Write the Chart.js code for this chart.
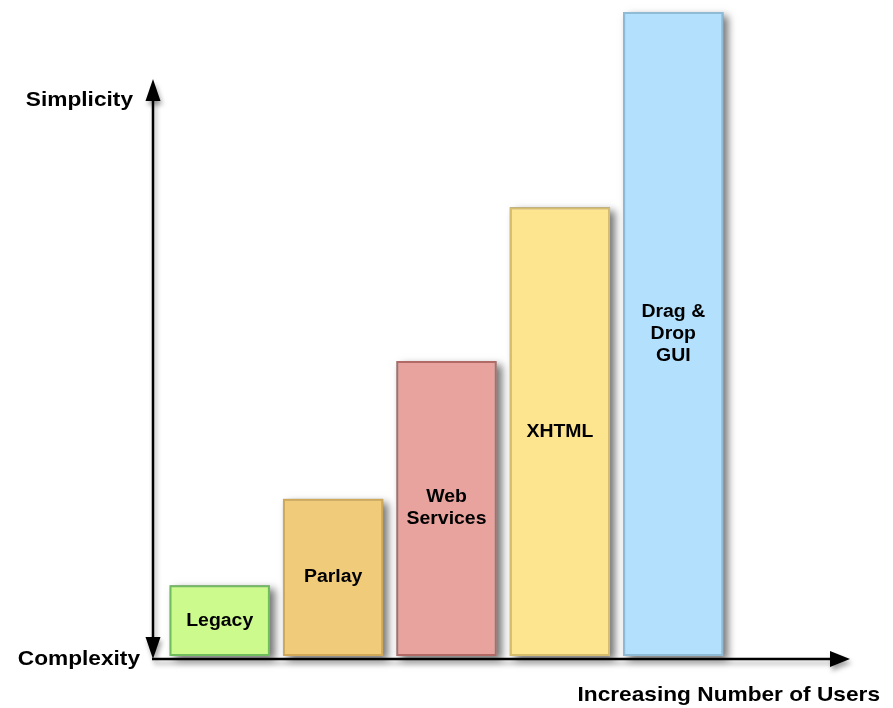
<!DOCTYPE html>
<html>
<head>
<meta charset="utf-8">
<script src="https://cdn.jsdelivr.net/npm/chart.js@4"></script>
<style>
  html, body { margin: 0; padding: 0; background: #fff; }
  #wrap { width: 893px; height: 708px; position: relative; }
</style>
</head>
<body>
<div id="wrap"><canvas id="chart"></canvas></div>
<script>
// data (0 = complexity, 100 = simplicity of the tallest)
const categories = ['Legacy', 'Parlay', ['Web', 'Services'], 'XHTML', ['Drag &', 'Drop', 'GUI']];
const simplicity = [11.0, 24.4, 45.8, 69.7, 100];
const fillColors = ['#cdfa8c', '#f0cb7a', '#e8a39e', '#fde48f', '#b2e0fd'];
const edgeColors = ['#6fbd5c', '#d0a857', '#b26a66', '#d6bd6d', '#8fbbd6'];
const yAxisTop = 'Simplicity';
const yAxisBottom = 'Complexity';
const xAxisTitle = 'Increasing Number of Users';

const FONT = '"Liberation Sans", Arial, Helvetica, sans-serif';

// stretched bold text, the source image is a bit wider than it is tall
function wideText(ctx, text, x, y, size, align) {
    ctx.save();
    ctx.font = 'bold ' + size + 'px ' + FONT;
    ctx.textAlign = align || 'center';
    ctx.textBaseline = 'middle';
    ctx.translate(x, y);
    ctx.scale(1.08, 1);
    ctx.fillText(text, 0, 0);
    ctx.restore();
}

// Chart.js clips bar drawing to the bar itself, so the drop shadow
// is painted first as a separate rect that the bar then covers
const shadowPlugin = {
    id: 'barShadow',
    beforeDatasetsDraw(chart) {
        const ctx = chart.ctx;
        const meta = chart.getDatasetMeta(0);
        ctx.save();
        ctx.shadowColor = 'rgba(0,0,0,0.55)';
        ctx.shadowBlur = 8;
        ctx.shadowOffsetX = 5;
        ctx.shadowOffsetY = 4;
        ctx.fillStyle = '#999';
        meta.data.forEach(bar => {
            ctx.fillRect(bar.x - bar.width / 2, bar.y, bar.width, bar.base - bar.y);
        });
        ctx.restore();
    }
};

const decoPlugin = {
    id: 'deco',
    afterDatasetsDraw(chart) {
        const ctx = chart.ctx;
        const area = chart.chartArea;
        const ax = area.left - 10;       // vertical axis x
        const ay = area.bottom + 3;      // horizontal axis y
        const topTip = 79;
        const rightTip = 850;

        ctx.save();
        ctx.fillStyle = '#000';
        ctx.strokeStyle = '#000';
        ctx.lineWidth = 2.5;
        ctx.shadowColor = 'rgba(0,0,0,0.35)';
        ctx.shadowBlur = 5;
        ctx.shadowOffsetX = 2;
        ctx.shadowOffsetY = 4;

        // vertical double arrow
        ctx.beginPath();
        ctx.moveTo(ax, topTip + 15);
        ctx.lineTo(ax, ay - 18);
        ctx.stroke();
        ctx.beginPath();
        ctx.moveTo(ax, topTip);
        ctx.lineTo(ax - 7.5, topTip + 22);
        ctx.lineTo(ax + 7.5, topTip + 22);
        ctx.closePath();
        ctx.fill();
        ctx.beginPath();
        ctx.moveTo(ax, ay);
        ctx.lineTo(ax - 7.5, ay - 22);
        ctx.lineTo(ax + 7.5, ay - 22);
        ctx.closePath();
        ctx.fill();

        // horizontal arrow
        ctx.beginPath();
        ctx.moveTo(ax - 1, ay);
        ctx.lineTo(rightTip - 15, ay);
        ctx.stroke();
        ctx.beginPath();
        ctx.moveTo(rightTip, ay);
        ctx.lineTo(rightTip - 20, ay - 8);
        ctx.lineTo(rightTip - 20, ay + 8);
        ctx.closePath();
        ctx.fill();
        ctx.restore();

        // axis words
        ctx.save();
        ctx.fillStyle = '#000';
        wideText(ctx, yAxisTop, 133, 100, 21, 'right');
        wideText(ctx, yAxisBottom, 140, 659, 21, 'right');
        wideText(ctx, xAxisTitle, 880, 695, 21, 'right');

        // labels in the middle of each bar
        const meta = chart.getDatasetMeta(0);
        meta.data.forEach((bar, i) => {
            const lines = [].concat(categories[i]);
            const cy = (bar.y + bar.base) / 2;
            const lh = 22;
            lines.forEach((ln, j) => {
                wideText(ctx, ln, bar.x, cy + (j - (lines.length - 1) / 2) * lh, 18);
            });
        });
        ctx.restore();
    }
};

new Chart(document.getElementById('chart'), {
    type: 'bar',
    data: {
        labels: categories,
        datasets: [{
            data: simplicity,
            backgroundColor: fillColors,
            borderColor: edgeColors,
            borderWidth: 2,
            borderSkipped: false,
            barPercentage: 0.885,
            categoryPercentage: 1,
            clip: false
        }]
    },
    options: {
        responsive: true,
        maintainAspectRatio: false,
        animation: false,
        events: [],
        layout: { padding: { left: 163, right: 163, top: 12, bottom: 52 } },
        plugins: { legend: { display: false }, tooltip: { enabled: false } },
        scales: {
            x: { display: false },
            y: { display: false, min: 0, max: 100 }
        }
    },
    plugins: [shadowPlugin, decoPlugin]
});
</script>
</body>
</html>
